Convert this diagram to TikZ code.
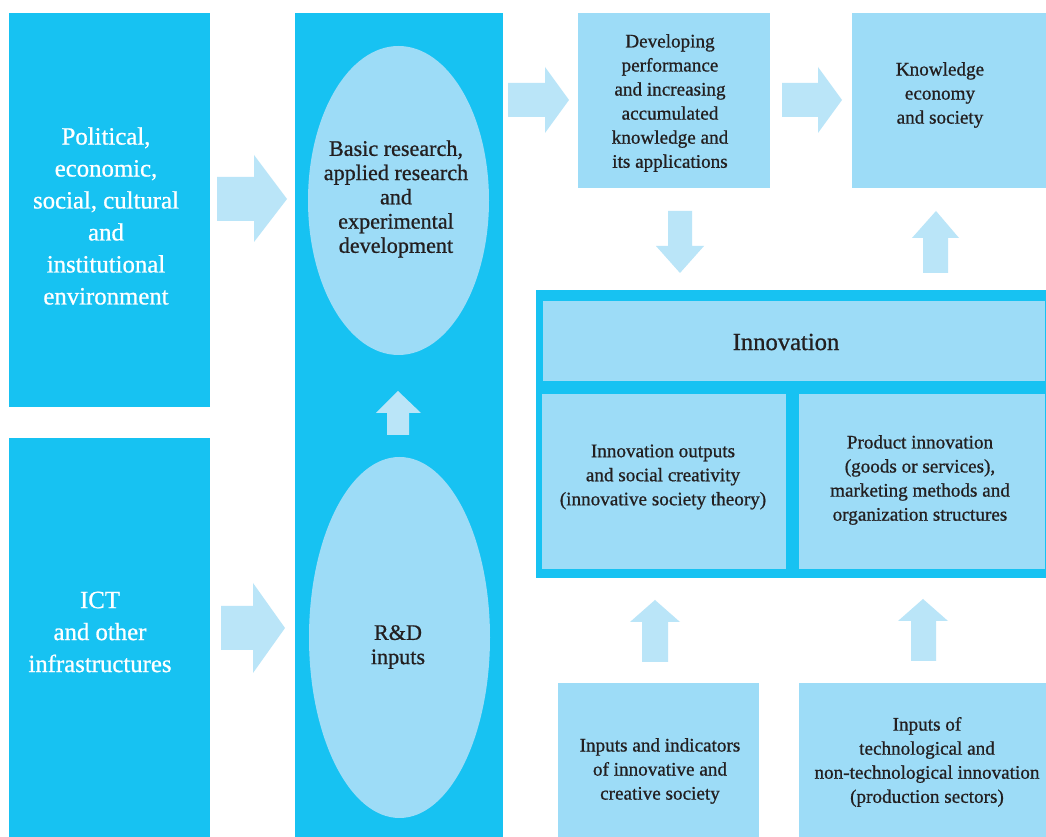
\documentclass[tikz,border=0pt]{standalone}
\usepackage{fontspec}
\setmainfont{Liberation Serif}[FakeBold=0.8]
\usetikzlibrary{shapes.geometric}
\definecolor{deep}{HTML}{17C2F2}
\definecolor{pale}{HTML}{9DDCF7}
\definecolor{arrowc}{HTML}{BAE5F8}
\definecolor{ink}{HTML}{231F20}
\begin{document}
\begin{tikzpicture}[x=0.02cm,y=-0.02cm,
  sz/.style 2 args={minimum width=#1*0.02cm, minimum height=#2*0.02cm},
  deepbox/.style={fill=deep, draw=none, inner sep=0pt, anchor=north west},
  palebox/.style={fill=pale, draw=none, inner sep=0pt, anchor=north west},
  paleell/.style={ellipse, fill=pale, draw=none, inner sep=0pt},
  blockarrow/.style={fill=arrowc, draw=none},
  whitetxt/.style={text=white, align=center, font=\fontsize{14.1}{18.2}\selectfont, inner sep=0pt},
  smalltxt/.style={text=ink, align=center, font=\fontsize{10.9}{13.7}\selectfont, inner sep=0pt},
  elltxt/.style={text=ink, align=center, font=\fontsize{12.6}{13.8}\selectfont, inner sep=0pt},
  titletxt/.style={text=ink, align=center, font=\fontsize{14}{17}\selectfont, inner sep=0pt}
]
\useasboundingbox (0,0) rectangle (1046,837);
\fill[white] (0,0) rectangle (1046,837);

% left boxes
\node[deepbox, sz={201}{394}] (env) at (9,13) {};
\node[deepbox, sz={201}{399}] (ict) at (9,438) {};
\node[whitetxt] (envt) at (106,216) {Political,\\economic,\\social, cultural\\and\\institutional\\environment};
\node[whitetxt] (ictt) at (100,632) {ICT\\and other\\infrastructures};

% R&D column
\node[deepbox, sz={208}{824}] (col) at (295,13) {};
\node[paleell, sz={181}{309}] (basic) at (398.5,200.5) {};
\node[paleell, sz={181}{361}] (rd) at (399.5,637.5) {};
\node[elltxt] (basict) at (396,199) {Basic research,\\applied research\\and\\experimental\\development};
\node[elltxt] (rdt) at (398,647) {R\&D\\inputs};

% top right boxes
\node[palebox, sz={192}{175}] (dev) at (578,13) {};
\node[palebox, sz={194}{175}] (know) at (852,13) {};
\node[smalltxt] (devt) at (670,103) {Developing\\performance\\and increasing\\accumulated\\knowledge and\\its applications};
\node[smalltxt] (knowt) at (940,95) {Knowledge\\economy\\and society};

% innovation frame
\node[deepbox, sz={510}{288}] (frame) at (536,290) {};
\node[palebox, sz={502}{80}] (inn) at (543,301) {};
\node[palebox, sz={244}{175}] (innl) at (542,394) {};
\node[palebox, sz={246}{175}] (innr) at (799,394) {};
\node[titletxt] (innt) at (786,342) {Innovation};
\node[smalltxt] (innlt) at (663,477) {Innovation outputs\\and social creativity\\(innovative society theory)};
\node[smalltxt] (innrt) at (920,480) {Product innovation\\(goods or services),\\marketing methods and\\organization structures};

% bottom boxes
\node[palebox, sz={201}{154}] (inp1) at (558,683) {};
\node[palebox, sz={247}{154}] (inp2) at (799,683) {};
\node[smalltxt] (inp1t) at (660,771) {Inputs and indicators\\of innovative and\\creative society};
\node[smalltxt] (inp2t) at (927,762) {Inputs of\\technological and\\non-technological innovation\\(production sectors)};

% block arrows
\fill[blockarrow] (217,177) -- (254,177) -- (254,155) -- (287,199) -- (254,242) -- (254,221) -- (217,221) -- cycle;
\fill[blockarrow] (221,606) -- (253,606) -- (253,583) -- (285,628) -- (253,673) -- (253,650) -- (221,650) -- cycle;
\fill[blockarrow] (508,83) -- (545,83) -- (545,67) -- (569,100) -- (545,133) -- (545,117) -- (508,117) -- cycle;
\fill[blockarrow] (782,83) -- (818,83) -- (818,67) -- (842,100) -- (818,133) -- (818,117) -- (782,117) -- cycle;
\fill[blockarrow] (668,211) -- (692,211) -- (692,246) -- (704,246) -- (680,273) -- (656,246) -- (668,246) -- cycle;
\fill[blockarrow] (923,273) -- (948,273) -- (948,238) -- (959,238) -- (936,211) -- (912,238) -- (923,238) -- cycle;
\fill[blockarrow] (387,435) -- (409,435) -- (409,413) -- (421,413) -- (398,391) -- (376,413) -- (387,413) -- cycle;
\fill[blockarrow] (642,662) -- (668,662) -- (668,622) -- (680,622) -- (655,600) -- (630,622) -- (642,622) -- cycle;
\fill[blockarrow] (911,661) -- (936,661) -- (936,621) -- (948,621) -- (923,599) -- (898,621) -- (911,621) -- cycle;
\end{tikzpicture}
\end{document}
